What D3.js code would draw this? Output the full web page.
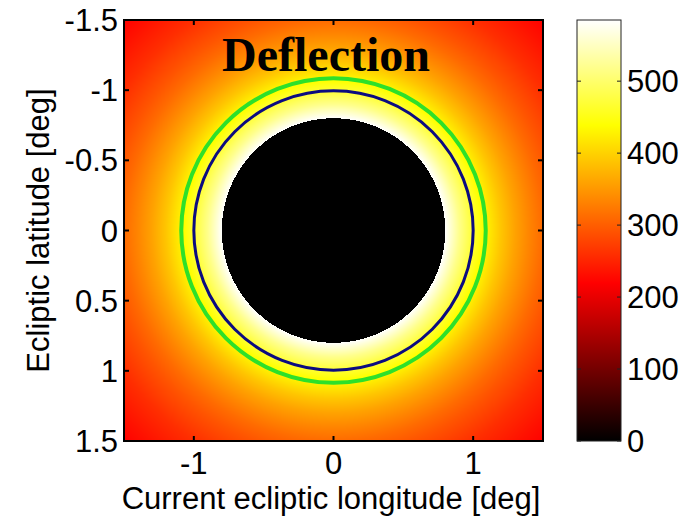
<!DOCTYPE html>
<html>
<head>
<meta charset="utf-8">
<script src="https://cdn.jsdelivr.net/npm/d3@7"></script>
<style>
  html, body { margin: 0; padding: 0; background: #ffffff; }
  svg { display: block; }
  text { font-family: "Liberation Sans", Arial, Helvetica, sans-serif; fill: #000; }
</style>
</head>
<body>
<svg id="chart" width="681" height="516"></svg>
<script>
// ---------------- data ----------------
// radial profile of the deflection field (distance from centre in deg -> value)
const radiiDeg   = [0.8, 0.9, 1.0, 1.1, 1.2, 1.3, 1.4, 1.5, 1.6, 1.8, 2.0, 2.15];
const deflection = [584, 519, 467, 425, 389, 359, 334, 311, 292, 259, 234, 217];
// masked (black) central disk radius, deg
const maskRadius = 0.8;
// contour circles (radius in deg) and their colours
const contourRadii  = [1.09, 1.0];
const contourColors = ["#2ee02a", "#0c0c80"];
// axis ticks
const xTicks = [-1, 0, 1];
const yTicks = [-1.5, -1, -0.5, 0, 0.5, 1, 1.5];
const cbTicks = [0, 100, 200, 300, 400, 500];
const cbMax = 585;
// colormap (MATLAB "hot") stops
const hotStops  = [0, 0.375, 0.75, 1];
const hotColors = ["#000000", "#ff0000", "#ffff00", "#ffffff"];

const titleText = "Deflection";
const xLabel = "Current ecliptic longitude [deg]";
const yLabel = "Ecliptic latitude [deg]";

// ---------------- layout ----------------
const plot = { left: 124, right: 543, top: 20, bottom: 441 };
const cb = { left: 577, right: 621, top: 20, bottom: 441 };

const svg = d3.select("#chart");

const x = d3.scaleLinear().domain([-1.5, 1.5]).range([plot.left, plot.right]);
const y = d3.scaleLinear().domain([-1.5, 1.5]).range([plot.top, plot.bottom]);
const radial = d3.scaleLinear().domain(radiiDeg).range(deflection).clamp(true);
const hot = d3.scaleLinear().domain(hotStops).range(hotColors).interpolate(d3.interpolateRgb).clamp(true);
const cScale = d3.scaleLinear().domain([0, cbMax]).range([0, 1]).clamp(true);

// ---------------- heat map ----------------
const W = Math.round(plot.right - plot.left), H = Math.round(plot.bottom - plot.top);
const canvas = document.createElement("canvas");
canvas.width = W; canvas.height = H;
const ctx = canvas.getContext("2d");
const img = ctx.createImageData(W, H);
for (let j = 0; j < H; j++) {
  const lat = y.invert(plot.top + j + 0.5);
  for (let i = 0; i < W; i++) {
    const lon = x.invert(plot.left + i + 0.5);
    const r = Math.hypot(lon, lat);
    const v = r < maskRadius ? 0 : radial(r);
    const c = d3.rgb(hot(cScale(v)));
    const k = (j * W + i) * 4;
    img.data[k] = c.r; img.data[k + 1] = c.g; img.data[k + 2] = c.b; img.data[k + 3] = 255;
  }
}
ctx.putImageData(img, 0, 0);
svg.append("image")
  .attr("x", plot.left).attr("y", plot.top)
  .attr("width", W).attr("height", H)
  .attr("preserveAspectRatio", "none")
  .attr("href", canvas.toDataURL());

// contours
svg.selectAll("circle.contour")
  .data(contourRadii)
  .enter().append("circle")
  .attr("class", "contour")
  .attr("cx", x(0)).attr("cy", y(0))
  .attr("r", d => x(d) - x(0))
  .attr("fill", "none")
  .attr("stroke", (d, i) => contourColors[i])
  .attr("stroke-width", (d, i) => i === 0 ? 4 : 3);

// title
svg.append("text")
  .attr("x", 326).attr("y", 71)
  .attr("text-anchor", "middle")
  .style("font-family", '"Liberation Serif", "Times New Roman", Times, serif')
  .style("font-weight", "bold")
  .style("font-size", "48px")
  .text(titleText);

// frame + ticks (MATLAB box style, ticks inside)
const tickLen = 5;
const axes = svg.append("g");
axes.append("rect")
  .attr("x", plot.left).attr("y", plot.top)
  .attr("width", plot.right - plot.left).attr("height", plot.bottom - plot.top)
  .attr("fill", "none").attr("stroke", "#000").attr("stroke-width", 2);

xTicks.forEach(t => {
  axes.append("line").attr("x1", x(t)).attr("x2", x(t)).attr("y1", plot.bottom).attr("y2", plot.bottom - tickLen).attr("stroke", "#000").attr("stroke-width", 2);
  axes.append("line").attr("x1", x(t)).attr("x2", x(t)).attr("y1", plot.top).attr("y2", plot.top + tickLen).attr("stroke", "#000").attr("stroke-width", 2);
});
yTicks.forEach(t => {
  axes.append("line").attr("y1", y(t)).attr("y2", y(t)).attr("x1", plot.left).attr("x2", plot.left + tickLen).attr("stroke", "#000").attr("stroke-width", 2);
  axes.append("line").attr("y1", y(t)).attr("y2", y(t)).attr("x1", plot.right).attr("x2", plot.right - tickLen).attr("stroke", "#000").attr("stroke-width", 2);
});

const fmt = d => String(d);
axes.selectAll("text.xt").data(xTicks).enter().append("text")
  .attr("class", "xt")
  .attr("x", d => x(d)).attr("y", 474)
  .attr("text-anchor", "middle")
  .style("font-size", "31px")
  .text(fmt);
axes.selectAll("text.yt").data(yTicks).enter().append("text")
  .attr("class", "yt")
  .attr("x", 118).attr("y", d => y(d) + 11)
  .attr("text-anchor", "end")
  .style("font-size", "31px")
  .text(fmt);

svg.append("text")
  .attr("x", 331).attr("y", 509)
  .attr("text-anchor", "middle")
  .style("font-size", "31px")
  .text(xLabel);
svg.append("text")
  .attr("transform", `translate(49,${y(0)}) rotate(-90)`)
  .attr("text-anchor", "middle")
  .style("font-size", "31px")
  .text(yLabel);

// ---------------- colour bar ----------------
const defs = svg.append("defs");
const grad = defs.append("linearGradient").attr("id", "hotgrad")
  .attr("x1", 0).attr("y1", 1).attr("x2", 0).attr("y2", 0);
d3.range(0, 1.0001, 0.025).forEach(t => {
  grad.append("stop").attr("offset", t).attr("stop-color", hot(t));
});
const cy = d3.scaleLinear().domain([0, cbMax]).range([cb.bottom, cb.top]);
svg.append("rect")
  .attr("x", cb.left).attr("y", cb.top)
  .attr("width", cb.right - cb.left).attr("height", cb.bottom - cb.top)
  .attr("fill", "url(#hotgrad)")
  .attr("stroke", "#222").attr("stroke-width", 1);
cbTicks.forEach(t => {
  svg.append("line").attr("x1", cb.left).attr("x2", cb.left + 4).attr("y1", cy(t)).attr("y2", cy(t)).attr("stroke", "#222").attr("stroke-width", 1);
  svg.append("line").attr("x1", cb.right).attr("x2", cb.right - 4).attr("y1", cy(t)).attr("y2", cy(t)).attr("stroke", "#222").attr("stroke-width", 1);
});
svg.selectAll("text.ct").data(cbTicks).enter().append("text")
  .attr("class", "ct")
  .attr("x", 627).attr("y", d => cy(d) + 11)
  .attr("text-anchor", "start")
  .style("font-size", "31px")
  .text(fmt);
</script>
</body>
</html>
